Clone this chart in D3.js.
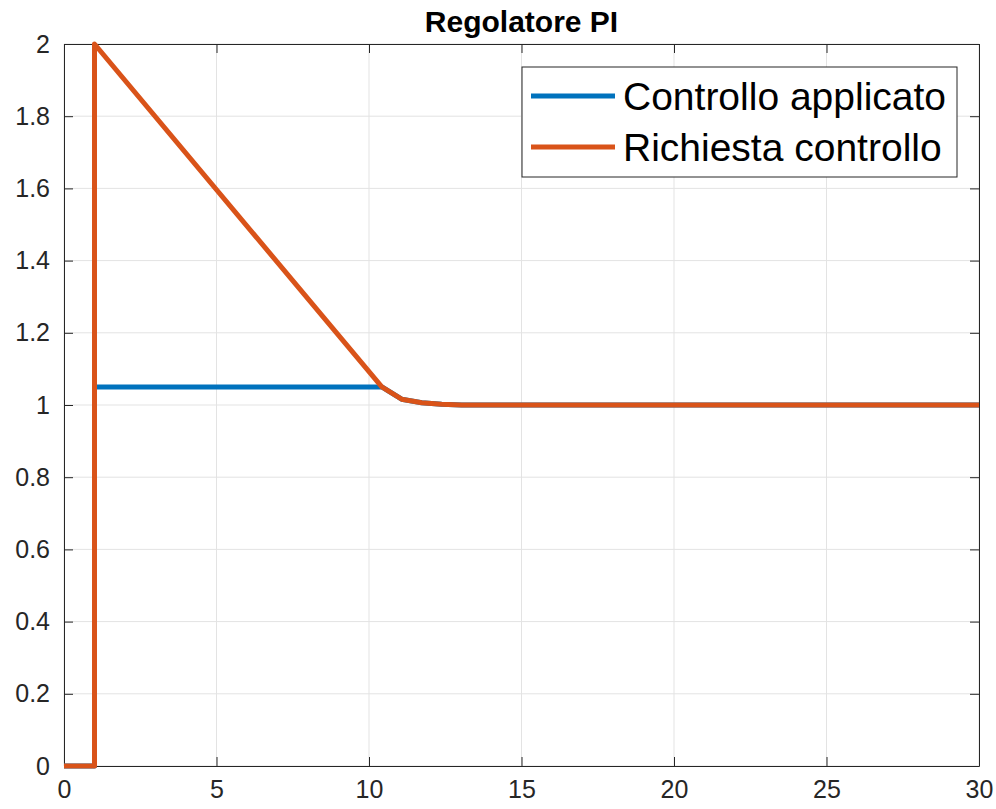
<!DOCTYPE html>
<html>
<head>
<meta charset="utf-8">
<script src="https://cdn.jsdelivr.net/npm/d3@7"></script>
<style>
  body { margin: 0; background: #fff; }
  svg { font-family: "Liberation Sans", Arial, Helvetica, sans-serif; }
  .line { fill: none; stroke-width: 5px; stroke-linejoin: round; }
  .grid line { stroke: #e3e3e3; stroke-width: 1px; }
  .axis path, .axis line { stroke: #262626; }
  .axis text { fill: #262626; font-size: 25px; }
</style>
</head>
<body>
<div id="chart"></div>
<script>
// time values and signals
const timeApplied = [0, 1, 1, 10.42, 11.07, 11.73, 12.38, 13.04, 30];
const valueApplied = [0, 0, 1.05, 1.05, 1.016, 1.006, 1.002, 1.0, 1.0];

const timeRequest = [0, 1, 1, 10.42, 11.07, 11.73, 12.38, 13.04, 30];
const valueRequest = [0, 0, 2, 1.05, 1.016, 1.006, 1.002, 1.0, 1.0];

const xTicks = [0, 5, 10, 15, 20, 25, 30];
const yTicks = [0, 0.2, 0.4, 0.6, 0.8, 1, 1.2, 1.4, 1.6, 1.8, 2];

const seriesNames = ["Controllo applicato", "Richiesta controllo"];
const seriesColors = ["#0072BD", "#D95319"];
const title = "Regolatore PI";

const W = 996, H = 809;
const margin = {top: 44, right: 17, bottom: 43, left: 64},
    width = W - margin.left - margin.right,
    height = H - margin.top - margin.bottom;

const x = d3.scaleLinear().domain([0, 30]).range([0, width]);
const y = d3.scaleLinear().domain([0, 2]).range([height, 0]);

const svg = d3.select("#chart").append("svg")
    .attr("width", W)
    .attr("height", H);

const graph = svg.append("g")
    .attr("transform", "translate(" + margin.left + "," + margin.top + ")");

// grid
const grid = graph.append("g").attr("class", "grid");
grid.selectAll(".gx").data(xTicks).enter().append("line")
    .attr("x1", d => x(d)).attr("x2", d => x(d))
    .attr("y1", 0).attr("y2", height);
grid.selectAll(".gy").data(yTicks).enter().append("line")
    .attr("y1", d => y(d)).attr("y2", d => y(d))
    .attr("x1", 0).attr("x2", width);

// axes (box with inward ticks)
const tickLen = 9;
graph.append("g")
    .attr("class", "axis")
    .attr("transform", "translate(0," + height + ")")
    .call(d3.axisBottom(x).tickValues(xTicks).tickSizeInner(-tickLen).tickSizeOuter(0).tickPadding(14));
graph.append("g")
    .attr("class", "axis")
    .call(d3.axisLeft(y).tickValues(yTicks).tickFormat(d3.format("~g")).tickSizeInner(-tickLen).tickSizeOuter(0).tickPadding(14));
graph.append("g")
    .attr("class", "axis")
    .call(d3.axisTop(x).tickValues(xTicks).tickSizeInner(-tickLen).tickSizeOuter(0).tickFormat(""));
graph.append("g")
    .attr("class", "axis")
    .attr("transform", "translate(" + width + ",0)")
    .call(d3.axisRight(y).tickValues(yTicks).tickSizeInner(-tickLen).tickSizeOuter(0).tickFormat(""));

// lines
const line = d3.line()
    .x(d => x(d[0]))
    .y(d => y(d[1]));

const series = [
    d3.zip(timeApplied, valueApplied),
    d3.zip(timeRequest, valueRequest)
];

graph.selectAll(".line").data(series).enter().append("path")
    .attr("class", "line")
    .attr("stroke", (d, i) => seriesColors[i])
    .attr("d", line);

// title
svg.append("text")
    .attr("x", margin.left + width / 2)
    .attr("y", 32)
    .attr("text-anchor", "middle")
    .attr("font-weight", "bold")
    .attr("font-size", 30)
    .attr("fill", "#000")
    .text(title);

// legend
const legend = svg.append("g").attr("transform", "translate(522,67)");
legend.append("rect")
    .attr("width", 435).attr("height", 110)
    .attr("fill", "#fff").attr("stroke", "#262626").attr("stroke-width", 1);
seriesNames.forEach((name, i) => {
    const ly = 29 + i * 51;
    legend.append("line")
        .attr("x1", 9).attr("x2", 93)
        .attr("y1", ly).attr("y2", ly)
        .attr("stroke", seriesColors[i]).attr("stroke-width", 5);
    legend.append("text")
        .attr("x", 101).attr("y", ly + 14)
        .attr("font-size", 39)
        .attr("fill", "#000")
        .text(name);
});
</script>
</body>
</html>
